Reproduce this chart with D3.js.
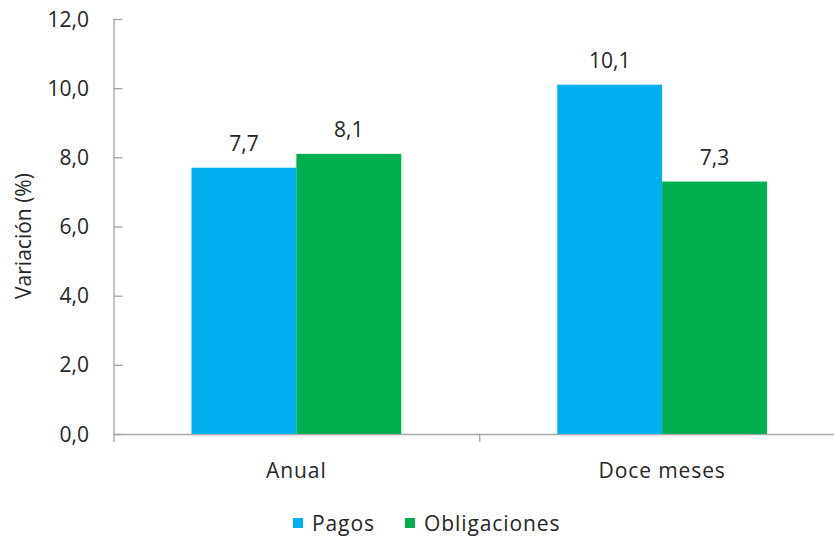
<!DOCTYPE html>
<html>
<head>
<meta charset="utf-8">
<script src="https://cdn.jsdelivr.net/npm/d3@7"></script>
<style>
  body { margin: 0; background: #fff; }
  text { font-family: "Open Sans", "Noto Sans", sans-serif; fill: #262626; }
  .word { letter-spacing: 0.9px; }
</style>
</head>
<body>
<svg id="chart" width="834" height="538"></svg>
<script>
// data
const categories = ["Anual", "Doce meses"];
const series = ["Pagos", "Obligaciones"];
const pagos = [7.7, 10.1];
const obligaciones = [8.1, 7.3];
const yTicks = [0, 2, 4, 6, 8, 10, 12];
const colors = ["#00b0f0", "#00b050"];

const values = [pagos, obligaciones];
const fmt = (v) => d3.format(".1f")(v).replace(".", ",");
const fs = "21px";

const svg = d3.select("#chart");
const plotLeft = 113.5, plotRight = 845, plotTop = 19, plotBottom = 434;

//scales
const y = d3.scaleLinear().domain([0, 12]).range([plotBottom, plotTop]);
const x0 = d3.scaleBand().domain(categories).range([plotLeft, plotRight]).padding(0);
const gap = 78;
const x1 = d3.scaleBand().domain(series).range([gap, x0.bandwidth() - gap]).padding(0);

//y axis
const yAxis = d3.axisRight(y).tickValues(yTicks).tickSize(9).tickFormat("");
const gy = svg.append("g").attr("transform", `translate(${plotLeft},0)`).call(yAxis);
gy.selectAll("path, line").attr("stroke", "#a6a6a6").attr("stroke-width", 1.3);
gy.select(".domain").attr("d", `M0.5,${plotTop}V${plotBottom}`);

svg.append("g").selectAll("text")
  .data(yTicks)
  .join("text")
  .attr("x", 89)
  .attr("y", (d) => y(d) + 7.5)
  .attr("text-anchor", "end")
  .style("font-size", fs)
  .text(fmt);

//x axis
const gx = svg.append("g");
gx.append("line")
  .attr("x1", plotLeft).attr("x2", plotRight)
  .attr("y1", plotBottom + 0.5).attr("y2", plotBottom + 0.5)
  .attr("stroke", "#a6a6a6").attr("stroke-width", 1.3);
gx.selectAll(".tick")
  .data(categories.map((c) => x0(c)).concat([x0.range()[1]]))
  .join("line")
  .attr("class", "tick")
  .attr("x1", (d) => d + 0.5).attr("x2", (d) => d + 0.5)
  .attr("y1", plotBottom).attr("y2", plotBottom + 8)
  .attr("stroke", "#a6a6a6").attr("stroke-width", 1.3);
gx.selectAll("text")
  .data(categories)
  .join("text")
  .attr("class", "word")
  .attr("x", (d) => x0(d) + x0.bandwidth() / 2)
  .attr("y", 478)
  .attr("text-anchor", "middle")
  .style("font-size", fs)
  .text((d) => d);

//bars
const groups = svg.append("g").selectAll("g")
  .data(categories)
  .join("g")
  .attr("transform", (d) => `translate(${x0(d)},0)`);

groups.selectAll("rect")
  .data((c, i) => series.map((s, j) => ({ s, j, v: values[j][i] })))
  .join("rect")
  .attr("x", (d) => x1(d.s))
  .attr("y", (d) => y(d.v))
  .attr("width", x1.bandwidth())
  .attr("height", (d) => plotBottom - y(d.v))
  .attr("fill", (d) => colors[d.j]);

groups.selectAll("text")
  .data((c, i) => series.map((s, j) => ({ s, j, v: values[j][i] })))
  .join("text")
  .attr("x", (d) => x1(d.s) + x1.bandwidth() / 2)
  .attr("y", (d) => y(d.v) - 17)
  .attr("text-anchor", "middle")
  .style("font-size", fs)
  .text((d) => fmt(d.v));

//y label
svg.append("text")
  .attr("transform", "translate(31,236) rotate(-90)")
  .attr("text-anchor", "middle")
  .style("font-size", fs)
  .text("Variación (%)");

//legend
const legendX = [293, 405];
const legend = svg.append("g").selectAll("g")
  .data(series)
  .join("g")
  .attr("transform", (d, i) => `translate(${legendX[i]},518)`);
legend.append("rect")
  .attr("width", 10).attr("height", 10)
  .attr("fill", (d, i) => colors[i]);
legend.append("text")
  .attr("class", "word")
  .attr("x", 19).attr("y", 13)
  .style("font-size", fs)
  .text((d) => d);
</script>
</body>
</html>
